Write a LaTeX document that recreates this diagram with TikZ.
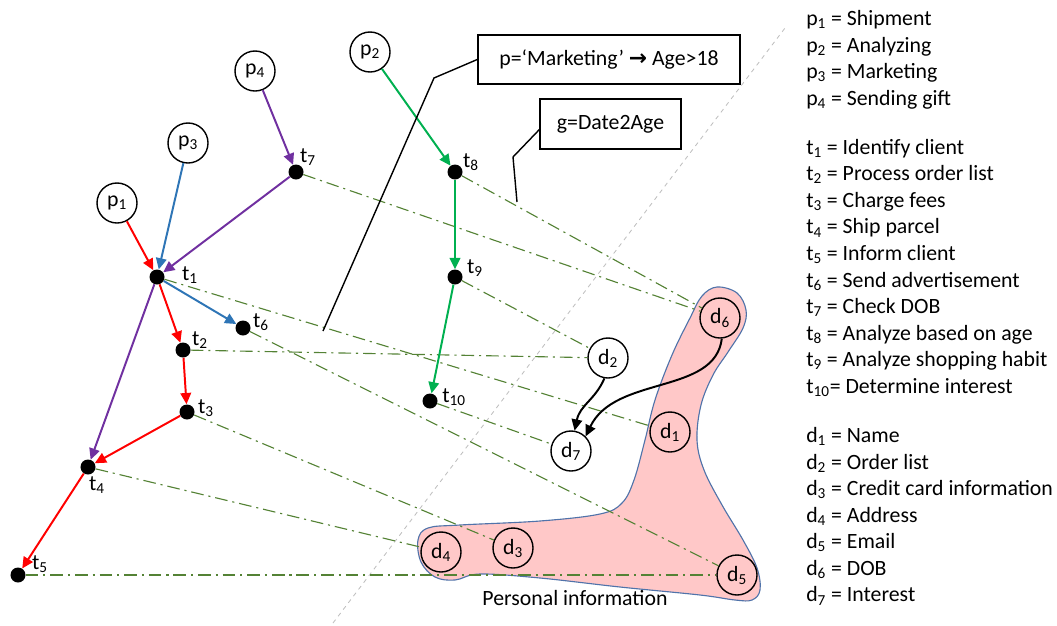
\documentclass[tikz,border=0pt]{standalone}
\usepackage{fontspec}
\setmainfont{Carlito}
\newfontfamily\arrowfont{DejaVu Sans}
\usepackage{xcolor}
\usetikzlibrary{arrows.meta, positioning}

\definecolor{flowred}{RGB}{255,0,0}
\definecolor{flowblue}{RGB}{46,117,182}
\definecolor{flowpurple}{RGB}{112,48,160}
\definecolor{flowgreen}{RGB}{0,176,80}
\definecolor{linkgreen}{RGB}{84,130,53}
\definecolor{blobpink}{RGB}{255,200,200}
\definecolor{blobline}{RGB}{80,115,170}

\newcommand{\ix}[1]{\textsubscript{#1}}

\tikzset{
    place/.style={circle, draw, line width=1pt, minimum size=1cm, inner sep=0pt, fill=white},
    pdata/.style={place, fill=blobpink},
    trans/.style={circle, fill=black, minimum size=0.375cm, inner sep=0pt},
    flow/.style={-{Triangle[length=8pt, width=7.5pt]}, line width=1.4pt},
    link/.style={draw=linkgreen, line width=0.8pt, dash pattern=on 9pt off 3.5pt on 1.5pt off 3.5pt},
    callout/.style={draw, line width=1pt, inner sep=0pt}
}

\begin{document}
\begin{tikzpicture}[x=0.025cm, y=-0.025cm, font=\fontsize{15.5}{18.9}\selectfont]
                \useasboundingbox (0, 0) rectangle (1057, 625);

                \filldraw[fill=blobpink, draw=blobline, line width=0.8pt] plot[smooth cycle, tension=0.6] coordinates {
                    (717,287) (737,293) (746,310) (743,328) (728,352) (713,375) (701,405) (697,440)
                    (704,470) (722,505) (743,540) (757,568) (760,590) (752,600) (735,600) (700,595)
                    (620,587) (540,578) (480,574) (455,580) (435,577) (421,562) (418,540) (428,528)
                    (460,525) (540,521) (600,514) (622,503) (634,480) (645,440) (655,400) (672,355)
                    (690,318) (702,296)};

                \coordinate (sepA) at (333, 623);
                \coordinate (sepB) at (785, 28);
                \draw[black!25, dashed, line width=0.6pt] (sepA) -- (sepB);

                \node[place] (p1) at (117, 203) {p\ix{1}};
                \node[place] (p2) at (370, 52) {p\ix{2}};
                \node[place] (p3) at (188, 143) {p\ix{3}};
                \node[place] (p4) at (255, 71) {p\ix{4}};

                \node[trans, label={[shift={(33,-2)}]center:t\ix{1}}] (t1) at (157, 277) {};
                \node[trans, label={[shift={(17,-10)}]center:t\ix{2}}] (t2) at (183, 350) {};
                \node[trans, label={[shift={(19,-4)}]center:t\ix{3}}] (t3) at (187, 412) {};
                \node[trans, label={[shift={(9,18)}]center:t\ix{4}}] (t4) at (88, 467) {};
                \node[trans, label={[shift={(22,-11)}]center:t\ix{5}}] (t5) at (18, 575) {};
                \node[trans, label={[shift={(18,-6)}]center:t\ix{6}}] (t6) at (243, 328) {};
                \node[trans, label={[shift={(12,-15)}]center:t\ix{7}}] (t7) at (296, 172) {};
                \node[trans, label={[shift={(16,-10)}]center:t\ix{8}}] (t8) at (455, 172) {};
                \node[trans, label={[shift={(20,-9)}]center:t\ix{9}}] (t9) at (455, 277) {};
                \node[trans, label={[shift={(24,-4)}]center:t\ix{10}}] (t10) at (430, 401) {};

                \node[pdata] (d1) at (670, 432) {d\ix{1}};
                \node[place] (d2) at (608, 358) {d\ix{2}};
                \node[pdata] (d3) at (513, 548) {d\ix{3}};
                \node[pdata] (d4) at (441, 552) {d\ix{4}};
                \node[pdata] (d5) at (737, 575) {d\ix{5}};
                \node[pdata] (d6) at (720, 318) {d\ix{6}};
                \node[place] (d7) at (571, 451) {d\ix{7}};

                \node (pinfo) at (575, 598) {Personal information};

                \draw[link] (t1) -- (d1);
                \draw[link] (t2) -- (d2);
                \draw[link] (t3) -- (d3);
                \draw[link] (t4) -- (d4);
                \draw[link] (t5) -- (d5);
                \draw[link] (t6) -- (d5);
                \draw[link] (t7) -- (d6);
                \draw[link] (t8) -- (d6);
                \draw[link] (t9) -- (d2);
                \draw[link] (t10) -- (d7);

                \draw[flow, flowred] (p1) -- (t1);
                \draw[flow, flowred] (t1) -- (t2);
                \draw[flow, flowred] (t2) -- (t3);
                \draw[flow, flowred] (t3) -- (t4);
                \draw[flow, flowred] (t4) -- (t5);
                \draw[flow, flowblue] (p3) -- (t1);
                \draw[flow, flowblue] (t1) -- (t6);
                \draw[flow, flowpurple] (p4) -- (t7);
                \draw[flow, flowpurple] (t7) -- (t1);
                \draw[flow, flowpurple] (t1) -- (t4);
                \draw[flow, flowgreen] (p2) -- (t8);
                \draw[flow, flowgreen] (t8) -- (t9);
                \draw[flow, flowgreen] (t9) -- (t10);

                \draw[flow, black] (d2.-100) .. controls (595,400) and (580,405) .. (d7.80);
                \draw[flow, black] (d6.-85) .. controls (715,395) and (615,375) .. (d7.north east);

                \node[callout, minimum width=6.55cm, minimum height=1.225cm] (mkt) at (609, 59.5)
                    {p=`Marketing' {\arrowfont\bfseries →} Age>18};
                \node[callout, minimum width=3.525cm, minimum height=1.25cm] (conv) at (610.5, 124) {g=Date2Age};
                \coordinate (mktbend) at (434, 78);
                \coordinate (mktfoot) at (323, 331);
                \coordinate (convbend) at (513, 157);
                \coordinate (convfoot) at (517, 202);
                \draw[line width=1pt] (mkt.west) -- (mktbend) -- (mktfoot);
                \draw[line width=1pt] ([yshift=-4pt]conv.west) -- (convbend) -- (convfoot);

                \node[anchor=north west, align=left, inner sep=0pt] (legend) at (806, 10) {
                    p\ix{1} = Shipment\\ p\ix{2} = Analyzing\\ p\ix{3} = Marketing\\ p\ix{4} = Sending gift\\[16pt]
                    t\ix{1} = Identify client\\ t\ix{2} = Process order list\\ t\ix{3} = Charge fees\\
                    t\ix{4} = Ship parcel\\ t\ix{5} = Inform client\\ t\ix{6} = Send advertisement\\
                    t\ix{7} = Check DOB\\ t\ix{8} = Analyze based on age\\ t\ix{9} = Analyze shopping habit\\
                    t\ix{10}= Determine interest\\[16pt]
                    d\ix{1} = Name\\ d\ix{2} = Order list\\ d\ix{3} = Credit card information\\ d\ix{4} = Address\\
                    d\ix{5} = Email\\ d\ix{6} = DOB\\ d\ix{7} = Interest};
            \end{tikzpicture}
\end{document}
